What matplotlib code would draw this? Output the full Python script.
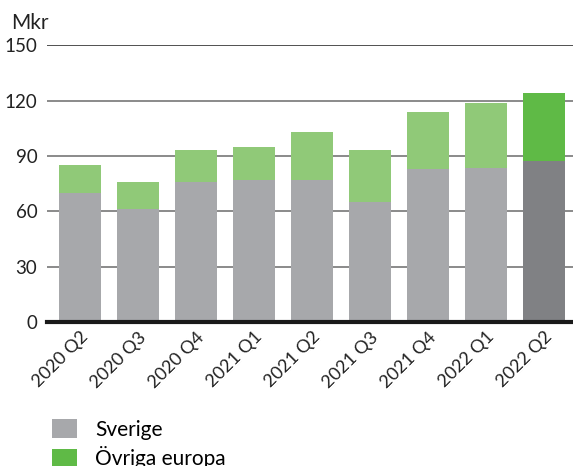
import matplotlib
matplotlib.use("Agg")
import matplotlib.pyplot as plt
from matplotlib.patches import Patch

categories = ["2020 Q2", "2020 Q3", "2020 Q4", "2021 Q1", "2021 Q2", "2021 Q3", "2021 Q4", "2022 Q1", "2022 Q2"]
sverige = [70, 61, 76, 77, 77, 65, 83, 83.5, 87]
ovriga = [15, 15, 17, 18, 26, 28, 31, 35, 37]
yticks = [0, 30, 60, 90, 120, 150]

plt.rcParams['font.family'] = ['Lato', 'DejaVu Sans']

fig = plt.figure(figsize=(5.73, 4.66), dpi=100)
ax = fig.add_axes([0.082, 0.309, 0.918, 0.594])

x = list(range(len(categories)))
sv_colors = ["#a7a8ab"] * (len(categories) - 1) + ["#808184"]
ov_colors = ["#90c978"] * (len(categories) - 1) + ["#5fba46"]
ax.bar(x, sverige, width=0.72, color=sv_colors, zorder=3)
ax.bar(x, ovriga, width=0.72, bottom=sverige, color=ov_colors, zorder=3)

ax.set_ylim(0, 150)
ax.set_xlim(-0.57, 8.5)
ax.set_yticks(yticks)
ax.set_yticklabels([str(v) for v in yticks], fontsize=13.5, color="#222222")
ax.set_xticks(x)
ax.set_xticklabels(categories, rotation=45, ha="right", rotation_mode="anchor", fontsize=13, color="#222222")
ax.tick_params(axis="both", length=0)
ax.tick_params(axis="y", pad=7)
ax.tick_params(axis="x", pad=5)
for s in ["left", "right", "top"]:
    ax.spines[s].set_visible(False)
ax.spines["bottom"].set_linewidth(3)
ax.spines["bottom"].set_color("#1a1a1a")
ax.spines["bottom"].set_zorder(4)
for v in yticks[1:]:
    ax.axhline(v, color="#333333" if v == 150 else "#777777", linewidth=1.2, zorder=1)

fig.text(0.02, 0.93, "Mkr", fontsize=15, color="#222222", ha="left", va="bottom")

handles = [Patch(facecolor="#a7a8ab"), Patch(facecolor="#5fba46")]
fig.legend(handles, ["Sverige", "Övriga europa"], loc="upper left", bbox_to_anchor=(0.09, 0.1),
           frameon=False, fontsize=15, handlelength=1.2, handleheight=1.0, handletextpad=0.9,
           labelspacing=0.3, borderaxespad=0, borderpad=0)

fig.savefig("out.png", dpi=100)
